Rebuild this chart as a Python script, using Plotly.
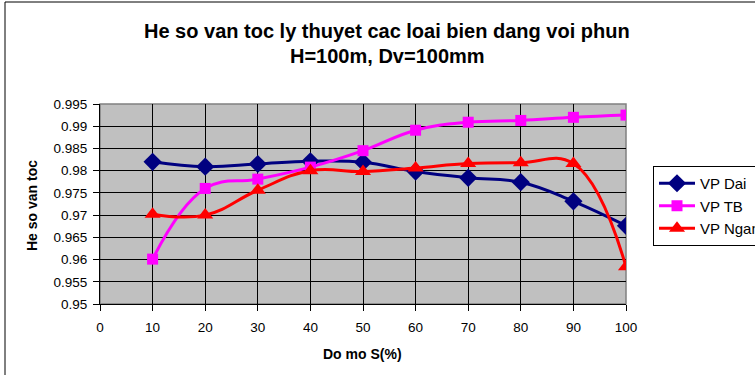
import plotly.graph_objects as go

x_vals = [10, 20, 30, 40, 50, 60, 70, 80, 90, 100]
vp_dai = [0.9820, 0.9809, 0.9815, 0.9821, 0.9819, 0.9798, 0.9784, 0.9774, 0.9731, 0.9676]
vp_tb = [0.9601, 0.9760, 0.9781, 0.9808, 0.9845, 0.9891, 0.9909, 0.9913, 0.9920, 0.9925]
vp_ngan = [0.9702, 0.9700, 0.9756, 0.9800, 0.9798, 0.9806, 0.9816, 0.9818, 0.9816, 0.9584]

names = ["VP Dai", "VP TB", "VP Ngan"]
colors = ["#000080", "#FF00FF", "#FF0000"]
symbols = ["diamond", "square", "triangle-up"]
sizes = [14, 11, 14]

y_ticks = [0.95, 0.955, 0.96, 0.965, 0.97, 0.975, 0.98, 0.985, 0.99, 0.995]
y_labels = ["0.95", "0.955", "0.96", "0.965", "0.97", "0.975", "0.98", "0.985", "0.99", "0.995"]
x_ticks = list(range(0, 101, 10))

W, H = 755, 375
L, R, T, B = 100, 626, 104, 304
pw, ph = R - L, B - T

fig = go.Figure()
for n, ys, c, s, sz in zip(names, [vp_dai, vp_tb, vp_ngan], colors, symbols, sizes):
    fig.add_trace(go.Scatter(
        x=x_vals, y=ys, name=n, mode="lines+markers",
        line=dict(color=c, width=3, shape="spline", smoothing=1.2),
        marker=dict(symbol=s, size=sz, color=c),
    ))

def px_x(p):
    return (p - L) / pw

def px_y(p):
    return 1 - (p - T) / ph

fig.update_layout(
    width=W, height=H,
    margin=dict(l=L, r=W - R, t=T, b=H - B, autoexpand=False),
    paper_bgcolor="white",
    plot_bgcolor="#C0C0C0",
    font=dict(family="Liberation Sans, Arial", color="black", size=13.5),
    showlegend=True,
    legend=dict(
        x=px_x(653), y=px_y(166), xanchor="left", yanchor="top",
        bgcolor="white", bordercolor="black", borderwidth=1,
        font=dict(size=15), tracegroupgap=0, itemwidth=36,
    ),
    xaxis=dict(
        range=[0, 100], tickmode="array", tickvals=x_ticks,
        showgrid=True, gridcolor="black", gridwidth=1,
        showline=True, linecolor="black", linewidth=1,
        ticks="outside", ticklen=6, tickcolor="black",
        ticklabelstandoff=5,
        tickfont=dict(size=13.5), zeroline=False,
    ),
    yaxis=dict(
        range=[0.95, 0.995], tickmode="array",
        tickvals=y_ticks, ticktext=y_labels,
        showgrid=True, gridcolor="black", gridwidth=1,
        showline=True, linecolor="black", linewidth=1,
        ticks="outside", ticklen=6, tickcolor="black",
        ticklabelstandoff=3,
        tickfont=dict(size=13.5), zeroline=False,
    ),
)

# plot area border (gray) and chart border
fig.add_shape(type="rect", xref="paper", yref="paper", x0=0, x1=1, y0=0, y1=1,
              line=dict(color="#808080", width=1.5), layer="below")
fig.add_shape(type="rect", xref="paper", yref="paper",
              x0=px_x(5), x1=px_x(800), y0=px_y(420), y1=px_y(2),
              line=dict(color="black", width=1))

fig.add_annotation(text="<b>He so van toc ly thuyet cac loai bien dang voi phun</b>",
                   xref="paper", yref="paper", x=px_x(387), y=px_y(31),
                   showarrow=False, font=dict(size=20), xanchor="center", yanchor="middle")
fig.add_annotation(text="<b>H=100m, Dv=100mm</b>",
                   xref="paper", yref="paper", x=px_x(387), y=px_y(56),
                   showarrow=False, font=dict(size=20), xanchor="center", yanchor="middle")
fig.add_annotation(text="<b>Do mo S(%)</b>",
                   xref="paper", yref="paper", x=px_x(362), y=px_y(354),
                   showarrow=False, font=dict(size=14), xanchor="center", yanchor="middle")
fig.add_annotation(text="<b>He so van toc</b>",
                   xref="paper", yref="paper", x=px_x(32), y=px_y(206),
                   showarrow=False, font=dict(size=14), textangle=-90,
                   xanchor="center", yanchor="middle")

fig.write_html("out.html")
